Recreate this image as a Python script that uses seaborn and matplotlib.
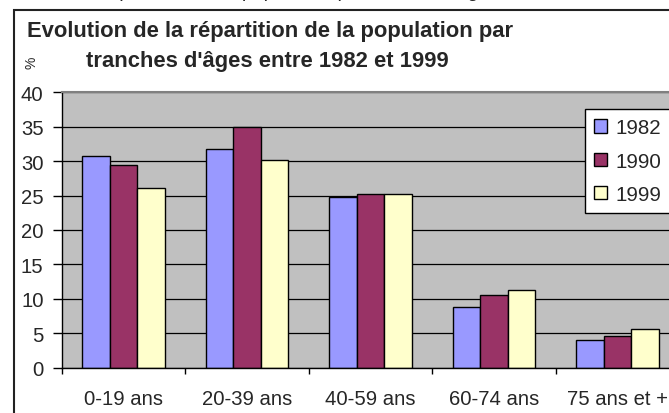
import seaborn as sns
import matplotlib.pyplot as plt
import pandas as pd
import numpy as np
from matplotlib.patches import Rectangle

# data
tranches = ['0-19 ans', '20-39 ans', '40-59 ans', '60-74 ans', '75 ans et +']
annees = ['1982', '1990', '1999']
v1982 = [30.8, 31.7, 24.8, 8.8, 4.0]
v1990 = [29.4, 34.9, 25.3, 10.5, 4.6]
v1999 = [26.1, 30.2, 25.3, 11.3, 5.6]
couleurs = ['#9999FF', '#993366', '#FFFFCC']

data = pd.DataFrame({
    'tranche': tranches * 3,
    'annee': [a for a in annees for _ in tranches],
    'pct': v1982 + v1990 + v1999,
})

sns.set_style('white')
plt.rcParams['font.family'] = ['Liberation Sans', 'DejaVu Sans']

W, H = 669, 414
fig = plt.figure(figsize=(W / 100, H / 100), dpi=100)
fig.patch.set_facecolor('white')

def px(x, y):
    return x / W, 1 - y / H

# plot area: x 62 -> 679 (clipped on the right), y 93.3 -> 368.7
ax = fig.add_axes([62 / W, 1 - 368.7 / H, (679 - 62) / W, (368.7 - 93.3) / H])
ax.set_facecolor('#C0C0C0')

sns.barplot(data=data, x='tranche', y='pct', hue='annee', hue_order=annees,
            palette=couleurs, edgecolor='black', linewidth=1, width=0.67,
            saturation=1, ax=ax, legend=True)

ax.set_xlim(-0.5, len(tranches) - 0.5)
ax.set_ylim(0, 40)
ax.set_yticks(np.arange(0, 41, 5))
ax.set_xlabel('')
ax.set_ylabel('')
ax.set_axisbelow(True)
ax.yaxis.grid(True, color='black', linewidth=0.9)
ax.xaxis.grid(False)

ax.tick_params(axis='y', which='major', direction='out', length=6.3, width=1,
               color='black', pad=7, labelsize=14.6, left=True)
ax.tick_params(axis='x', which='major', length=0, pad=15, labelsize=14.6)
ax.set_xticks(np.arange(-0.5, len(tranches)), minor=True)
ax.tick_params(axis='x', which='minor', direction='out', length=4.5, width=1,
               color='black', bottom=True)

for s in ['left', 'bottom']:
    ax.spines[s].set_color('black')
    ax.spines[s].set_linewidth(1)
ax.spines['top'].set_color('#808080')
ax.spines['top'].set_linewidth(1.5)
ax.spines['right'].set_visible(False)

leg = ax.legend(loc='upper left', bbox_to_anchor=px(585, 110),
                bbox_transform=fig.transFigure, fontsize=14.8,
                frameon=True, fancybox=False, edgecolor='black', framealpha=1,
                handlelength=0.6, handleheight=0.6, handletextpad=0.45,
                labelspacing=0.7, borderpad=0.45, borderaxespad=0)
leg.get_frame().set_linewidth(1)
leg.get_frame().set_facecolor('white')

# outer chart frame (runs off the right and bottom edges)
fig.add_artist(Rectangle(px(14, 440), 1.0, (440 - 11) / H, transform=fig.transFigure,
                         fill=False, edgecolor='#222222', linewidth=1.5))

# clipped italic caption above the chart, only its descenders show
fig.text(*px(96, -3), 'Répartition de la population par tranche d\'âge',
         fontsize=14, style='italic', va='baseline', ha='left')

fig.text(*px(26.7, 36.7), 'Evolution de la répartition de la population par',
         fontsize=15.8, fontweight='bold', va='baseline', ha='left')
fig.text(*px(86, 66.7), "tranches d'âges entre 1982 et 1999",
         fontsize=15.8, fontweight='bold', va='baseline', ha='left')
fig.text(*px(31, 62.5), '%', fontsize=10, rotation=90, va='center', ha='center')

fig.savefig('out.png', dpi=100)
